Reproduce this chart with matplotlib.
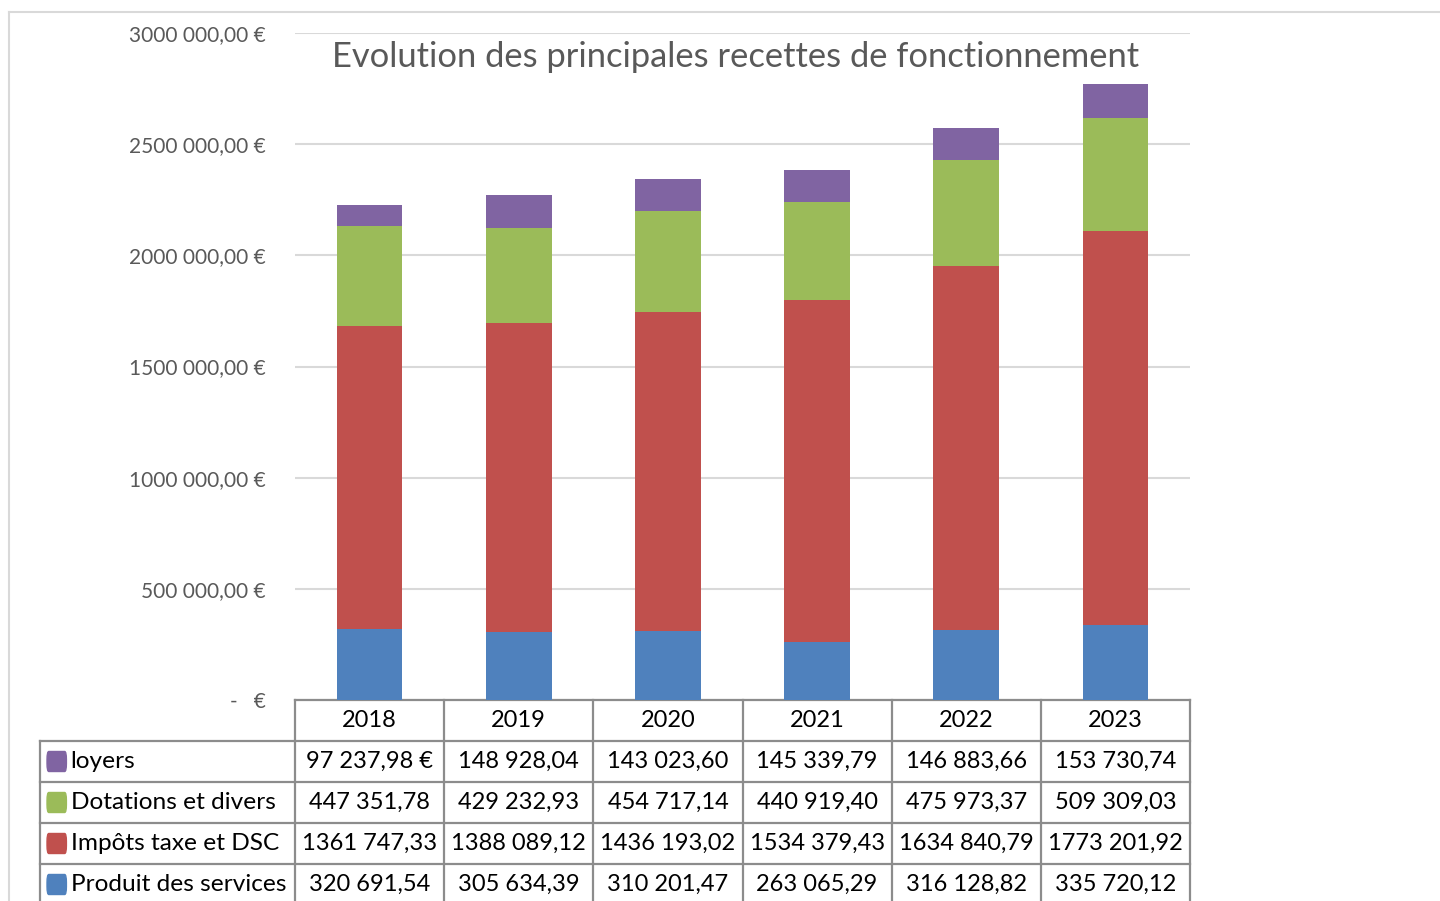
import matplotlib.pyplot as plt
from matplotlib.patches import FancyBboxPatch
from matplotlib.transforms import blended_transform_factory
from matplotlib.lines import Line2D

plt.rcParams['font.family'] = ['Lato', 'DejaVu Sans']

annees = ['2018', '2019', '2020', '2021', '2022', '2023']
produit = [320691.54, 305634.39, 310201.47, 263065.29, 316128.82, 335720.12]
impots = [1361747.33, 1388089.12, 1436193.02, 1534379.43, 1634840.79, 1773201.92]
dotations = [447351.78, 429232.93, 454717.14, 440919.40, 475973.37, 509309.03]
loyers = [97237.98, 148928.04, 143023.60, 145339.79, 146883.66, 153730.74]

series = [
    ('Produit des services', produit, '#4F81BD'),
    ('Impôts taxe et DSC', impots, '#C0504D'),
    ('Dotations et divers', dotations, '#9BBB59'),
    ('loyers', loyers, '#8064A2'),
]


def euro(v):
    if v == 0:
        return '-   €'
    cents = int(round(v * 100))
    ent, c = cents // 100, cents % 100
    if ent >= 1000:
        return f"{ent // 1000} {ent % 1000:03d},{c:02d}"
    return f"{ent},{c:02d}"


W, H = 1440, 901
fig = plt.figure(figsize=(W / 100, H / 100), dpi=100)
ax = fig.add_axes([295 / W, 201 / H, 895 / W, 667 / H])

# bars
x = list(range(len(annees)))
bottom = [0] * len(annees)
for nom, vals, col in series:
    ax.bar(x, vals, 0.44, bottom=bottom, color=col, zorder=3)
    bottom = [b + v for b, v in zip(bottom, vals)]

ax.set_xlim(-0.5, len(annees) - 0.5)
ax.set_ylim(0, 3000000)
ax.set_yticks([i * 500000 for i in range(7)])
ax.set_yticklabels([euro(t) + (' €' if t else '') for t in ax.get_yticks()],
                   color='#595959', fontsize=15)
ax.tick_params(axis='y', length=0, pad=21)
ax.set_xticks([])
ax.grid(axis='y', color='#D9D9D9', lw=1.5, zorder=0)
for s in ax.spines.values():
    s.set_visible(False)

fig.text(736 / W, 1 - 57 / H, 'Evolution des principales recettes de fonctionnement',
         ha='center', va='center', fontsize=24.8, color='#595959')

# data table under the plot
tr = blended_transform_factory(ax.transData, ax.transAxes)
rh = 41 / 667
left = -0.5 - 255 / 149.17
gc = '#8C8C8C'
n = len(annees)


def hline(y, x0, x1):
    ax.add_line(Line2D([x0, x1], [y, y], transform=tr, color=gc, lw=1.6, clip_on=False))


def vline(xv, y0, y1):
    ax.add_line(Line2D([xv, xv], [y0, y1], transform=tr, color=gc, lw=1.6, clip_on=False))


hline(0, -0.5, n - 0.5)
for k in range(1, 6):
    hline(-rh * k, left, n - 0.5)
for i in range(n + 1):
    vline(i - 0.5, 0, -rh * 5.2)
vline(left, -rh, -rh * 5.2)

for i, a in enumerate(annees):
    ax.text(i, -rh * 0.5, a, transform=tr, ha='center', va='center', fontsize=17)

rows = list(reversed(series))
for r, (nom, vals, col) in enumerate(rows):
    yc = -rh * (r + 1.5)
    ax.add_patch(FancyBboxPatch((left + 0.047, yc - 0.015), 0.13, 0.03,
                                boxstyle='round,pad=0,rounding_size=0.012',
                                transform=tr, color=col, clip_on=False))
    ax.text(left + 0.205, yc, nom, transform=tr, ha='left', va='center', fontsize=17.6)
    for i, v in enumerate(vals):
        s = euro(v)
        if r == 0 and i == 0:
            s += ' €'
        ax.text(i, yc, s, transform=tr, ha='center', va='center', fontsize=17)

# outer chart frame
fig.add_artist(Line2D([9 / W, 1], [1 - 12 / H, 1 - 12 / H], transform=fig.transFigure,
                      color='#D9D9D9', lw=1.5))
fig.add_artist(Line2D([9 / W, 9 / W], [0, 1 - 12 / H], transform=fig.transFigure,
                      color='#D9D9D9', lw=1.5))

fig.savefig('out.png', dpi=100)
